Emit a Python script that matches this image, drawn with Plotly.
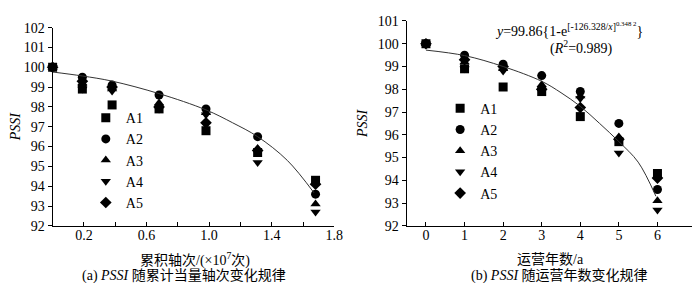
import plotly.graph_objects as go

# ---- data ----
series_names = ["A1", "A2", "A3", "A4", "A5"]
x_load = [0, 0.19, 0.38, 0.68, 0.98, 1.31, 1.68]          # ×10^7 axle loads
x_year = [0, 1, 2, 3, 4, 5, 6]                             # years of operation
A1 = [100, 98.9, 98.1, 97.9, 96.8, 95.7, 94.3]
A2 = [100, 99.5, 99.1, 98.6, 97.9, 96.5, 93.6]
A3 = [100, 99.2, 98.9, 98.2, 97.7, 95.9, 93.1]
A4 = [100, 98.9, 98.8, 97.9, 97.6, 95.2, 92.7]
A5 = [100, 99.3, 99.0, 98.0, 97.2, 95.8, 94.1]
series_values = [A1, A2, A3, A4, A5]

fit_load_x = [0, 0.19, 0.38, 0.68, 0.98, 1.15, 1.31, 1.5, 1.67]
fit_load_y = [99.76, 99.56, 99.3, 98.67, 97.85, 97.2, 96.5, 95.3, 93.67]
fit_year_x = [0, 1, 2, 3, 3.5, 4, 4.5, 5, 5.5, 5.96]
fit_year_y = [99.72, 99.48, 99.0, 98.35, 97.85, 97.25, 96.5, 95.7, 94.8, 93.3]

load_tickvals = [0.2, 0.6, 1.0, 1.4, 1.8]
load_ticktext = ["0.2", "0.6", "1.0", "1.4", "1.8"]
load_minor_tickvals = [0.4, 0.8, 1.2, 1.6]
year_tickvals = [0, 1, 2, 3, 4, 5, 6, 7]
left_ytick = list(range(92, 103))
right_ytick = list(range(92, 102))

symbols = ["square", "circle", "triangle-up", "triangle-down", "diamond"]

W, H = 700, 283
FONT = "Liberation Serif, Noto Sans CJK SC, serif"
FS = 14

fig = go.Figure()

for name, vals, sym in zip(series_names, series_values, symbols):
    fig.add_trace(go.Scatter(
        x=x_load, y=vals, mode="markers", name=name,
        marker=dict(symbol=sym, size=9, color="black"),
        xaxis="x", yaxis="y", legend="legend", cliponaxis=False))
fig.add_trace(go.Scatter(
    x=fit_load_x, y=fit_load_y, mode="lines", line=dict(color="#333333", width=1, shape="spline"),
    showlegend=False, xaxis="x", yaxis="y", hoverinfo="skip"))

for name, vals, sym in zip(series_names, series_values, symbols):
    fig.add_trace(go.Scatter(
        x=x_year, y=vals, mode="markers", name=name,
        marker=dict(symbol=sym, size=9, color="black"),
        xaxis="x2", yaxis="y2", legend="legend2", cliponaxis=False))
fig.add_trace(go.Scatter(
    x=fit_year_x, y=fit_year_y, mode="lines", line=dict(color="#333333", width=1, shape="spline"),
    showlegend=False, xaxis="x2", yaxis="y2", hoverinfo="skip"))

def px_x(p):
    return p / W

def px_y(p):
    return 1 - p / H

axis_common = dict(showline=True, linecolor="black", linewidth=1, showgrid=False, zeroline=False,
                   tickfont=dict(family=FONT, size=FS, color="black"), tickcolor="black")

def note(text, x, y):
    return dict(text=text, x=px_x(x), y=px_y(y), xref="paper", yref="paper", showarrow=False,
                xanchor="center", yanchor="middle", font=dict(family=FONT, size=FS))

fig.update_layout(
    width=W, height=H, margin=dict(l=0, r=0, t=0, b=0),
    paper_bgcolor="white", plot_bgcolor="white",
    font=dict(family=FONT, size=FS, color="black"),
    xaxis=dict(domain=[px_x(43.3), px_x(329.5)], range=[0, 1.8], anchor="y",
               tickmode="array", tickvals=load_tickvals, ticktext=load_ticktext,
               ticks="inside", ticklen=4, ticklabelstandoff=-4,
               minor=dict(tickmode="array", tickvals=load_minor_tickvals, ticks="inside",
                          ticklen=4, tickcolor="black", showgrid=False),
               **axis_common),
    yaxis=dict(domain=[px_y(222.7), px_y(13.3)], range=[92, 102], anchor="x",
               tickmode="array", tickvals=left_ytick, ticks="outside", ticklen=4,
               title=dict(text="<i>PSSI</i>", font=dict(family=FONT, size=FS), standoff=6),
               **axis_common),
    xaxis2=dict(domain=[px_x(403), px_x(697)], range=[-0.5, 7], anchor="y2",
                tickmode="array", tickvals=year_tickvals,
                ticks="inside", ticklen=4, ticklabelstandoff=-4,
                **axis_common),
    yaxis2=dict(domain=[px_y(222.7), px_y(6.3)], range=[92, 101], anchor="x2",
                tickmode="array", tickvals=right_ytick, ticks="outside", ticklen=4,
                title=dict(text="<i>PSSI</i>", font=dict(family=FONT, size=FS), standoff=6),
                **axis_common),
    legend=dict(x=px_x(77), y=px_y(92), xanchor="left", yanchor="top",
                bgcolor="rgba(0,0,0,0)", font=dict(family=FONT, size=FS)),
    legend2=dict(x=px_x(437), y=px_y(82), xanchor="left", yanchor="top",
                 bgcolor="rgba(0,0,0,0)", font=dict(family=FONT, size=FS)),
    annotations=[
        note("累积轴次/(×10<sup>7</sup>次)", 188, 258),
        note("运营年数/a", 549, 258),
        note("(a) <i>PSSI</i> 随累计当量轴次变化规律", 177, 276),
        note("(b) <i>PSSI</i> 随运营年数变化规律", 558, 276),
        note("<i>y</i>=99.86{1-e<sup>[-126.328/<i>x</i>]<sup>0.348 2</sup></sup>}", 568, 15),
        note("(<i>R</i><sup>2</sup>=0.989)", 581, 34),
    ],
)

fig.write_html("out.html")
